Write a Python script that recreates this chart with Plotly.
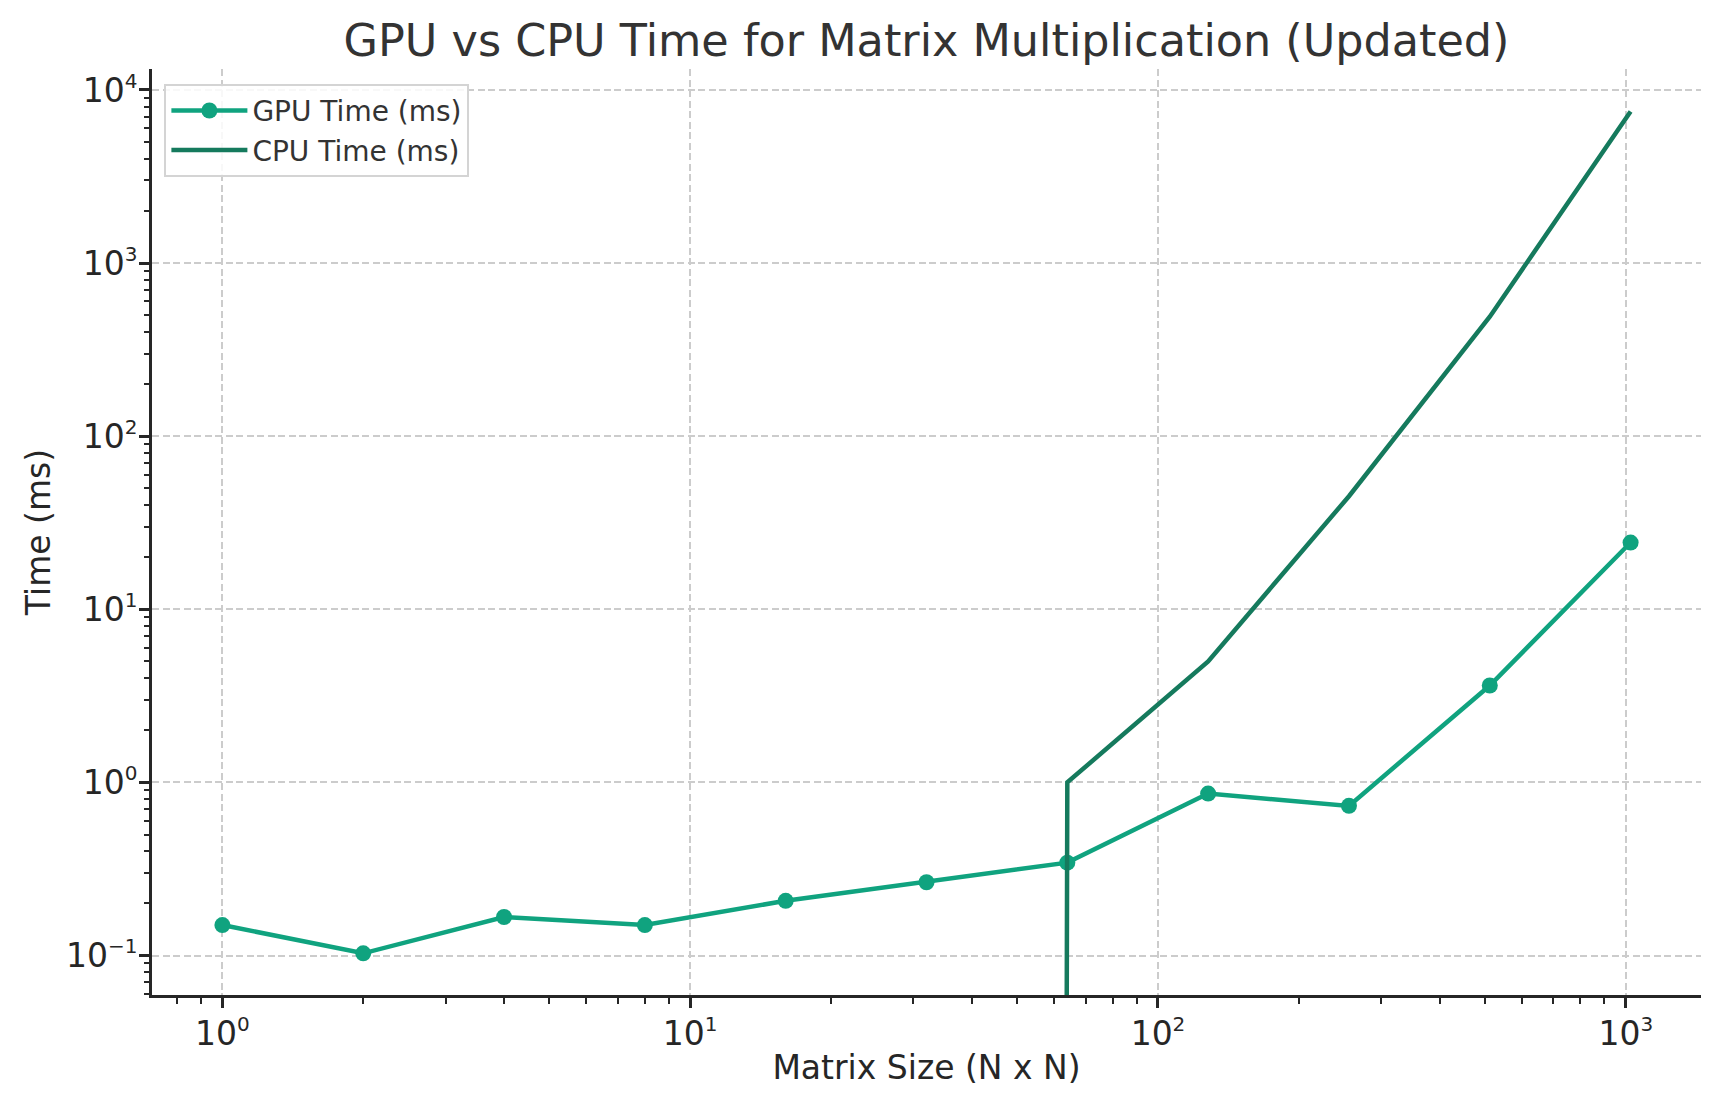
import plotly.graph_objects as go

matrix_sizes = [1, 2, 4, 8, 16, 32, 64, 128, 256, 512, 1024]
gpu_times = [0.150, 0.103, 0.167, 0.150, 0.207, 0.265, 0.344, 0.862, 0.732, 3.63, 24.3]
cpu_times = [0, 0, 0, 0, 0, 0, 1, 5, 45, 490, 7500]

x_tick_vals = [1, 10, 100, 1000]
x_exponents = ["0", "1", "2", "3"]
y_tick_vals = [0.1, 1, 10, 100, 1000, 10000]
y_exponents = ["\u22121", "0", "1", "2", "3", "4"]


def power_label(exp):
    return '10<sup><span style="font-size:20px">' + exp + "</span></sup>"


x_tick_text = [power_label(e) for e in x_exponents]
y_tick_text = [power_label(e) for e in y_exponents]

# minor ticks 2..9 of each decade
x_minor = [m * 10 ** e for e in range(-1, 4) for m in range(2, 10)]
y_minor = [m * 10 ** e for e in range(-2, 5) for m in range(2, 10)]

# matplotlib-like clipping of non-positive values on a log axis
cpu_plot = [v if v > 0 else 1e-300 for v in cpu_times]

GPU_COLOR = "#10a37f"
CPU_COLOR = "#157a5d"
TEXT = "#262626"
FONT = "DejaVu Sans"

# page body has an 8px margin; size the figure to compensate
W, H = 1712, 1095

fig = go.Figure()
fig.add_trace(go.Scatter(
    x=matrix_sizes, y=gpu_times, mode="lines+markers", name="GPU Time (ms)",
    line=dict(color=GPU_COLOR, width=4.5),
    marker=dict(color=GPU_COLOR, size=16),
))
fig.add_trace(go.Scatter(
    x=matrix_sizes, y=cpu_plot, mode="lines", name="CPU Time (ms)",
    line=dict(color=CPU_COLOR, width=4.5),
))

axis_common = dict(
    type="log",
    showline=True, linecolor=TEXT, linewidth=3,
    ticks="outside", ticklen=10, tickwidth=2.5, tickcolor=TEXT,
    showgrid=True, gridcolor="#cccccc", gridwidth=1.5, griddash="7px,3.5px",
    zeroline=False, mirror=False,
    tickfont=dict(family=FONT, size=33, color=TEXT),
    tickmode="array",
)

fig.update_xaxes(
    **axis_common,
    range=[-0.1505, 3.1608],
    tickvals=x_tick_vals, ticktext=x_tick_text,
    ticklabelstandoff=-3,
    minor=dict(tickmode="array", tickvals=x_minor, ticks="outside", ticklen=5.5,
               tickwidth=2, tickcolor=TEXT, showgrid=False),
    title=dict(text="Matrix Size (N x N)", font=dict(family=FONT, size=33, color=TEXT),
               standoff=5),
)
fig.update_yaxes(
    **axis_common,
    range=[-1.228, 4.121],
    tickvals=y_tick_vals, ticktext=y_tick_text,
    ticklabelstandoff=-5,
    minor=dict(tickmode="array", tickvals=y_minor, ticks="outside", ticklen=5.5,
               tickwidth=2, tickcolor=TEXT, showgrid=False),
    title=dict(text="Time (ms)", font=dict(family=FONT, size=33, color=TEXT),
               standoff=6),
)

fig.update_layout(
    width=W, height=H,
    margin=dict(l=144, r=19, t=61, b=108),
    paper_bgcolor="white", plot_bgcolor="white",
    font=dict(family=FONT, color=TEXT),
    title=dict(text="GPU vs CPU Time for Matrix Multiplication (Updated)",
               font=dict(family=FONT, size=44.5, color="#333333"),
               x=0.5, xref="paper", xanchor="center", y=1 - 32 / H, yanchor="middle"),
    legend=dict(x=0.008, y=0.984, xanchor="left", yanchor="top",
                bgcolor="rgba(255,255,255,0.85)", bordercolor="#d4d4d4", borderwidth=2,
                font=dict(family=FONT, size=28, color="#333333"),
                itemwidth=76),
    showlegend=True,
)

fig.write_html("out.html")
